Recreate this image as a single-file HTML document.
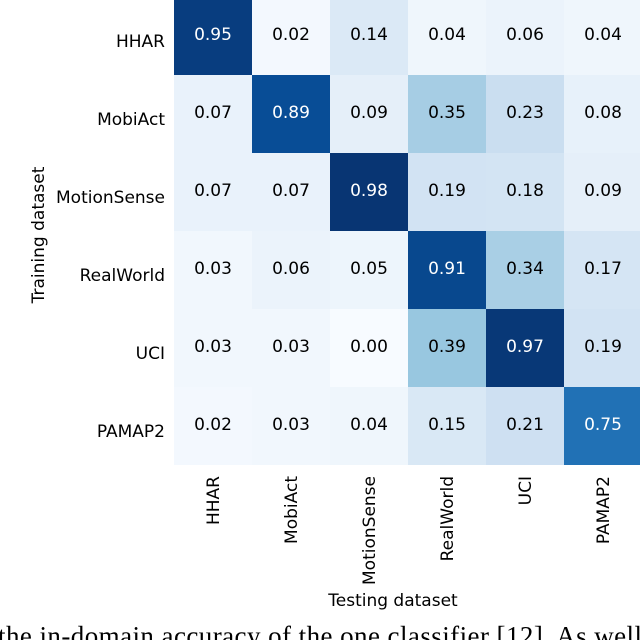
<!DOCTYPE html>
<html><head><meta charset="utf-8"><style>
body{margin:0;background:#fff;width:640px;height:640px;overflow:hidden;position:relative}
svg{position:absolute;left:0;top:0}
</style></head><body>
<svg id="chart" width="640" height="640" font-family="DejaVu Sans, Liberation Sans, sans-serif"></svg>
<script>
const rowLabels=["HHAR","MobiAct","MotionSense","RealWorld","UCI","PAMAP2"];
const colLabels=["HHAR","MobiAct","MotionSense","RealWorld","UCI","PAMAP2"];
const row0=[0.95,0.02,0.14,0.04,0.06,0.04];
const row1=[0.07,0.89,0.09,0.35,0.23,0.08];
const row2=[0.07,0.07,0.98,0.19,0.18,0.09];
const row3=[0.03,0.06,0.05,0.91,0.34,0.17];
const row4=[0.03,0.03,0.00,0.39,0.97,0.19];
const row5=[0.02,0.03,0.04,0.15,0.21,0.75];
const values=[row0,row1,row2,row3,row4,row5];

const NS="http://www.w3.org/2000/svg";
const svg=document.getElementById('chart');
const X0=174,Y0=-3,CW=78,CH=78;
const xPos=j=>X0+j*CW, yPos=i=>Y0+i*CH;
const stops=["#f7fbff","#deebf7","#c6dbef","#9ecae1","#6baed6","#4292c6","#2171b5","#08519c","#08306b"].map(h=>[1,3,5].map(k=>parseInt(h.substr(k,2),16)));
function blues(v){v=Math.max(0,Math.min(1,v));const t=v*8,i=Math.min(7,Math.floor(t)),f=t-i;const a=stops[i],b=stops[i+1];return `rgb(${a.map((c,k)=>Math.round(c+(b[k]-c)*f)).join(',')})`;}
function mk(tag,attrs,text){const e=document.createElementNS(NS,tag);for(const k in attrs)e.setAttribute(k,attrs[k]);if(text!==undefined)e.textContent=text;svg.appendChild(e);return e;}
values.forEach((row,i)=>row.forEach((v,j)=>{
  const r=mk('rect',{x:xPos(j),y:yPos(i),width:CW,height:CH,fill:blues(v)});
  
  
  const t=mk('text',{x:xPos(j)+CW/2,y:yPos(i)+CH/2+4,'text-anchor':'middle','font-size':17,fill:v>0.5?'#fff':'#000'},v.toFixed(2));
  
  
}));
rowLabels.forEach((l,i)=>{
  const t=mk('text',{x:165,y:yPos(i)+CH/2+11,'text-anchor':'end','font-size':17,fill:'#000'},l);
  
  
});
colLabels.forEach((l,j)=>{
  const cx=xPos(j)+CW/2+6;
  const t=mk('text',{x:cx,y:476,'text-anchor':'end','font-size':17,fill:'#000',transform:`rotate(-90 ${cx} 476)`},l);
  
  
});
const yt=mk('text',{x:44,y:235,'text-anchor':'middle','font-size':17,fill:'#000',transform:'rotate(-90 44 235)'},'Training dataset');


const xt=mk('text',{x:393,y:606,'text-anchor':'middle','font-size':17,fill:'#000'},'Testing dataset');


const cap=mk('text',{x:-2,y:645,'font-size':27,fill:'#000','font-family':'Liberation Serif, serif',textLength:644},'the in-domain accuracy of the one classifier [12]. As well');


</script>
</body></html>
